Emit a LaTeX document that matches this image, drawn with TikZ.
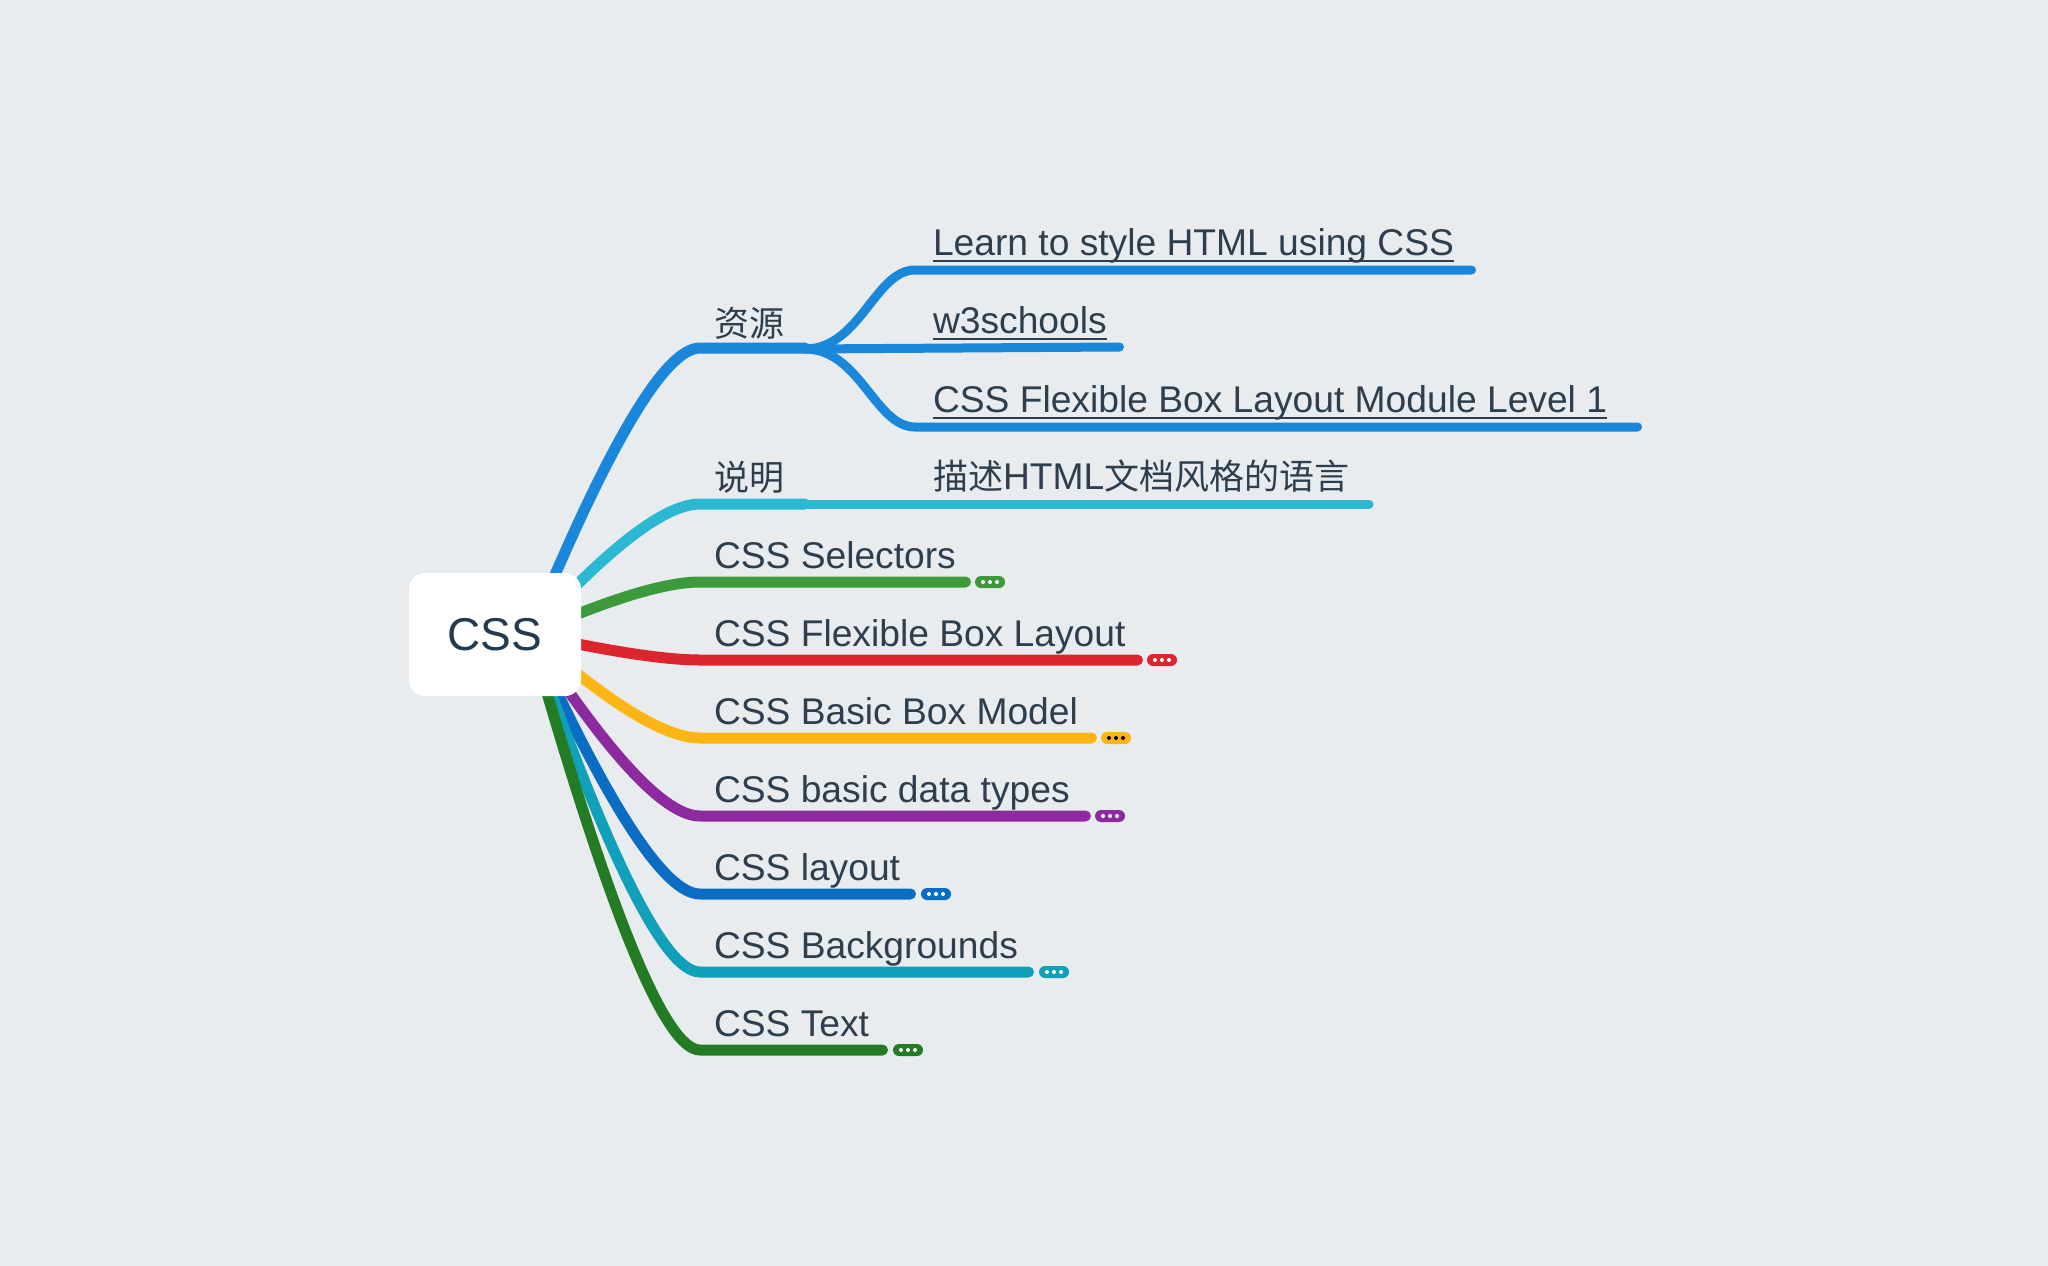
\documentclass[tikz,border=0pt]{standalone}
\usepackage{fontspec}
\setmainfont{Liberation Sans}
\newfontfamily\cjk{Noto Sans CJK SC}
\usetikzlibrary{calc}
\definecolor{bg}{HTML}{E8ECEF}
\definecolor{txt}{HTML}{2F3E4C}
\definecolor{roottxt}{HTML}{243B4F}
\definecolor{cblue}{HTML}{1A87DB}
\definecolor{ccyan}{HTML}{2BB8D3}
\definecolor{cgreen}{HTML}{3C9A3A}
\definecolor{cred}{HTML}{DD2530}
\definecolor{cyellow}{HTML}{FDB515}
\definecolor{cpurple}{HTML}{8E2AA0}
\definecolor{cdblue}{HTML}{0B6CC4}
\definecolor{cteal}{HTML}{11A0B9}
\definecolor{cdgreen}{HTML}{237C23}
\newcommand\cj[1]{{\cjk\fontsize{35}{40}\selectfont #1}}
\tikzset{
  lbl/.style={anchor=base west, inner sep=0pt, outer sep=0pt, text=txt, font=\fontsize{37.2}{40}\selectfont},
  br/.style={line width=11pt, line cap=round, draw=#1},
  subbr/.style={line width=9pt, line cap=round, draw=#1},
  pill/.style={draw=none, fill=#1, rounded corners=6pt, minimum width=30pt, minimum height=12pt, inner sep=0pt},
  uline/.style={draw=txt, line width=2.5pt},
}
\newcommand\pilldots[2]{\fill[#2] ([xshift=-7pt]#1.center) circle (2pt) (#1.center) circle (2pt) ([xshift=7pt]#1.center) circle (2pt);}
\newcommand\mbranch[4]{%
  \coordinate (#4s) at (700,#2);
  \coordinate (#4e) at (#3,#2);
  \draw[br=#1] (o) .. controls ($(o)!2/3!(648,#2)$) and (665,#2) .. (#4s) -- (#4e);
}
\begin{document}
\begin{tikzpicture}[x=1pt,y=-1pt]
\fill[bg] (0,0) rectangle (2048,1266);
\coordinate (o) at (530,634);
% main branches
\mbranch{cblue}{348}{805}{b1}
\mbranch{ccyan}{504}{805}{b2}
\mbranch{cgreen}{582}{965.5}{b3}
\mbranch{cred}{660}{1137.5}{b4}
\mbranch{cyellow}{738}{1091.5}{b5}
\mbranch{cpurple}{816}{1085.5}{b6}
\mbranch{cdblue}{894}{910.5}{b7}
\mbranch{cteal}{972}{1028.5}{b8}
\mbranch{cdgreen}{1050}{882.5}{b9}
% sub branches
\coordinate (j1) at (805,349);
\coordinate (s1s) at (915,270);
\coordinate (s1e) at (1471.5,270);
\coordinate (s2e) at (1119.5,347);
\coordinate (s3s) at (915,427);
\coordinate (s3e) at (1637.5,427);
\coordinate (s4e) at (1369,504);
\draw[subbr=cblue] (j1) .. controls (860,349) and (875,270) .. (s1s) -- (s1e);
\draw[subbr=cblue] (j1) -- (s2e);
\draw[subbr=cblue] (j1) .. controls (860,349) and (875,427) .. (s3s) -- (s3e);
\draw[subbr=ccyan] (b2e) -- (s4e);
% root
\node[fill=white, rounded corners=16pt, minimum width=172pt, minimum height=123pt, inner sep=0pt,
      font=\fontsize{46}{56}\selectfont, text=roottxt] (root) at (495,634.5) {CSS};
% labels
\node[lbl] (l1) at (714,336) {\cj{资源}};
\node[lbl] (l2) at (714,490) {\cj{说明}};
\node[lbl] (l3) at (714,568) {CSS Selectors};
\node[lbl] (l4) at (714,646) {CSS Flexible Box Layout};
\node[lbl] (l5) at (714,724) {CSS Basic Box Model};
\node[lbl] (l6) at (714,802) {CSS basic data types};
\node[lbl] (l7) at (714,880) {CSS layout};
\node[lbl] (l8) at (714,958) {CSS Backgrounds};
\node[lbl] (l9) at (714,1036) {CSS Text};
\node[lbl] (t1) at (933,255) {Learn to style HTML using CSS};
\node[lbl] (t2) at (933,333) {w3schools};
\node[lbl] (t3) at (933,412) {CSS Flexible Box Layout Module Level 1};
\node[lbl] (t4) at (933,489) {\cj{描述}HTML\cj{文档风格的语言}};
\draw[uline] ([yshift=-6pt]t1.base west) -- ([yshift=-6pt]t1.base east);
\draw[uline] ([yshift=-6pt]t2.base west) -- ([yshift=-6pt]t2.base east);
\draw[uline] ([yshift=-6pt]t3.base west) -- ([yshift=-6pt]t3.base east);
% pills
\node[pill=cgreen] (p3) at (990,582) {};
\node[pill=cred] (p4) at (1162,660) {};
\node[pill=cyellow] (p5) at (1116,738) {};
\node[pill=cpurple] (p6) at (1110,816) {};
\node[pill=cdblue] (p7) at (936,894) {};
\node[pill=cteal] (p8) at (1054,972) {};
\node[pill=cdgreen] (p9) at (908,1050) {};
\pilldots{p3}{white}
\pilldots{p4}{white}
\pilldots{p5}{black}
\pilldots{p6}{white}
\pilldots{p7}{white}
\pilldots{p8}{white}
\pilldots{p9}{white}
\end{tikzpicture}
\end{document}
